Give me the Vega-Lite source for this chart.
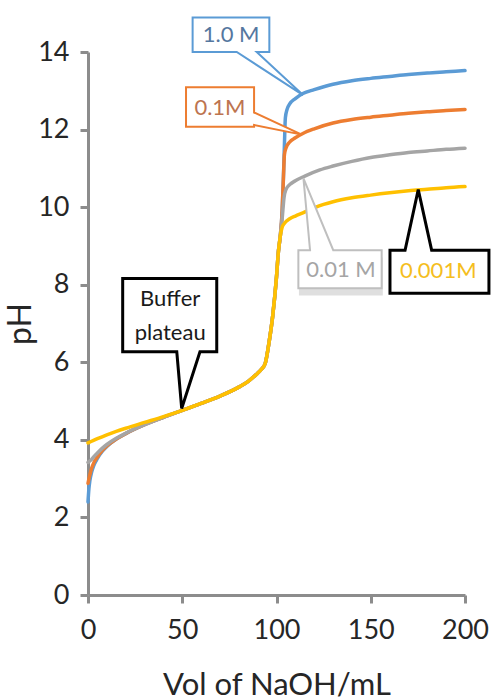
{
  "$schema": "https://vega.github.io/schema/vega-lite/v6.json",
  "width": 377,
  "height": 543,
  "autosize": {"type": "none"},
  "padding": {"left": 88, "top": 52, "right": 27, "bottom": 105},
  "background": "white",
  "config": {
    "view": {"stroke": null},
    "font": "Lato",
    "axis": {
      "domainColor": "#8c8c8c", "domainWidth": 3, "tickColor": "#8c8c8c", "tickWidth": 3, "tickSize": 8,
      "grid": false, "labelFont": "Lato", "labelFontSize": 27, "labelColor": "#262626",
      "titleFont": "Lato", "titleFontWeight": "normal", "titleColor": "#262626", "labelFlush": false, "labelOverlap": false
    }
  },
  "datasets": {
    "curves": [
      {"series": "1.0 M", "vol": 0, "pH": 2.4}, {"series": "1.0 M", "vol": 0.5, "pH": 2.75}, {"series": "1.0 M", "vol": 1, "pH": 2.95},
      {"series": "1.0 M", "vol": 2, "pH": 3.18}, {"series": "1.0 M", "vol": 3, "pH": 3.33}, {"series": "1.0 M", "vol": 5, "pH": 3.52},
      {"series": "1.0 M", "vol": 7.5, "pH": 3.7}, {"series": "1.0 M", "vol": 10, "pH": 3.83}, {"series": "1.0 M", "vol": 15, "pH": 4.02},
      {"series": "1.0 M", "vol": 20, "pH": 4.16}, {"series": "1.0 M", "vol": 30, "pH": 4.39}, {"series": "1.0 M", "vol": 40, "pH": 4.58},
      {"series": "1.0 M", "vol": 50, "pH": 4.76}, {"series": "1.0 M", "vol": 60, "pH": 4.94}, {"series": "1.0 M", "vol": 70, "pH": 5.13},
      {"series": "1.0 M", "vol": 80, "pH": 5.36}, {"series": "1.0 M", "vol": 85, "pH": 5.51}, {"series": "1.0 M", "vol": 90, "pH": 5.72},
      {"series": "1.0 M", "vol": 92, "pH": 5.82}, {"series": "1.0 M", "vol": 94, "pH": 5.97}, {"series": "1.0 M", "vol": 96, "pH": 6.5},
      {"series": "1.0 M", "vol": 98, "pH": 7.2}, {"series": "1.0 M", "vol": 100, "pH": 8.2}, {"series": "1.0 M", "vol": 101, "pH": 8.85},
      {"series": "1.0 M", "vol": 102, "pH": 9.25}, {"series": "1.0 M", "vol": 103, "pH": 9.9}, {"series": "1.0 M", "vol": 103.7, "pH": 10.8},
      {"series": "1.0 M", "vol": 104.2, "pH": 11.6}, {"series": "1.0 M", "vol": 104.7, "pH": 12.3}, {"series": "1.0 M", "vol": 105.6, "pH": 12.52},
      {"series": "1.0 M", "vol": 107, "pH": 12.66}, {"series": "1.0 M", "vol": 110, "pH": 12.8}, {"series": "1.0 M", "vol": 114, "pH": 12.93},
      {"series": "1.0 M", "vol": 120, "pH": 13.03}, {"series": "1.0 M", "vol": 130, "pH": 13.17}, {"series": "1.0 M", "vol": 140, "pH": 13.26},
      {"series": "1.0 M", "vol": 150, "pH": 13.32}, {"series": "1.0 M", "vol": 160, "pH": 13.37}, {"series": "1.0 M", "vol": 170, "pH": 13.42},
      {"series": "1.0 M", "vol": 180, "pH": 13.46}, {"series": "1.0 M", "vol": 190, "pH": 13.49}, {"series": "1.0 M", "vol": 200, "pH": 13.52},

      {"series": "0.1M", "vol": 0, "pH": 2.88}, {"series": "0.1M", "vol": 0.5, "pH": 3.0}, {"series": "0.1M", "vol": 1, "pH": 3.1},
      {"series": "0.1M", "vol": 2, "pH": 3.28}, {"series": "0.1M", "vol": 3, "pH": 3.4}, {"series": "0.1M", "vol": 5, "pH": 3.56},
      {"series": "0.1M", "vol": 7.5, "pH": 3.72}, {"series": "0.1M", "vol": 10, "pH": 3.84}, {"series": "0.1M", "vol": 15, "pH": 4.02},
      {"series": "0.1M", "vol": 20, "pH": 4.16}, {"series": "0.1M", "vol": 30, "pH": 4.39}, {"series": "0.1M", "vol": 40, "pH": 4.58},
      {"series": "0.1M", "vol": 50, "pH": 4.76}, {"series": "0.1M", "vol": 60, "pH": 4.94}, {"series": "0.1M", "vol": 70, "pH": 5.13},
      {"series": "0.1M", "vol": 80, "pH": 5.36}, {"series": "0.1M", "vol": 85, "pH": 5.51}, {"series": "0.1M", "vol": 90, "pH": 5.72},
      {"series": "0.1M", "vol": 92, "pH": 5.82}, {"series": "0.1M", "vol": 94, "pH": 5.97}, {"series": "0.1M", "vol": 96, "pH": 6.5},
      {"series": "0.1M", "vol": 98, "pH": 7.2}, {"series": "0.1M", "vol": 100, "pH": 8.2}, {"series": "0.1M", "vol": 101, "pH": 8.85},
      {"series": "0.1M", "vol": 102, "pH": 9.25}, {"series": "0.1M", "vol": 103, "pH": 9.9}, {"series": "0.1M", "vol": 103.7, "pH": 10.8},
      {"series": "0.1M", "vol": 104.2, "pH": 11.35}, {"series": "0.1M", "vol": 105, "pH": 11.52}, {"series": "0.1M", "vol": 107, "pH": 11.68},
      {"series": "0.1M", "vol": 110, "pH": 11.79}, {"series": "0.1M", "vol": 114, "pH": 11.9}, {"series": "0.1M", "vol": 120, "pH": 12.02},
      {"series": "0.1M", "vol": 130, "pH": 12.17}, {"series": "0.1M", "vol": 140, "pH": 12.26}, {"series": "0.1M", "vol": 150, "pH": 12.32},
      {"series": "0.1M", "vol": 160, "pH": 12.37}, {"series": "0.1M", "vol": 170, "pH": 12.42}, {"series": "0.1M", "vol": 180, "pH": 12.46},
      {"series": "0.1M", "vol": 190, "pH": 12.49}, {"series": "0.1M", "vol": 200, "pH": 12.52},

      {"series": "0.01 M", "vol": 0, "pH": 3.42}, {"series": "0.01 M", "vol": 1, "pH": 3.46}, {"series": "0.01 M", "vol": 2, "pH": 3.5},
      {"series": "0.01 M", "vol": 3, "pH": 3.56}, {"series": "0.01 M", "vol": 5, "pH": 3.66}, {"series": "0.01 M", "vol": 7.5, "pH": 3.78},
      {"series": "0.01 M", "vol": 10, "pH": 3.88}, {"series": "0.01 M", "vol": 15, "pH": 4.04}, {"series": "0.01 M", "vol": 20, "pH": 4.17},
      {"series": "0.01 M", "vol": 30, "pH": 4.39}, {"series": "0.01 M", "vol": 40, "pH": 4.58}, {"series": "0.01 M", "vol": 50, "pH": 4.76},
      {"series": "0.01 M", "vol": 60, "pH": 4.94}, {"series": "0.01 M", "vol": 70, "pH": 5.13}, {"series": "0.01 M", "vol": 80, "pH": 5.36},
      {"series": "0.01 M", "vol": 85, "pH": 5.51}, {"series": "0.01 M", "vol": 90, "pH": 5.72}, {"series": "0.01 M", "vol": 92, "pH": 5.82},
      {"series": "0.01 M", "vol": 94, "pH": 5.97}, {"series": "0.01 M", "vol": 96, "pH": 6.5}, {"series": "0.01 M", "vol": 98, "pH": 7.2},
      {"series": "0.01 M", "vol": 100, "pH": 8.2}, {"series": "0.01 M", "vol": 101, "pH": 8.85}, {"series": "0.01 M", "vol": 102, "pH": 9.25},
      {"series": "0.01 M", "vol": 103, "pH": 9.7}, {"series": "0.01 M", "vol": 104, "pH": 10.25}, {"series": "0.01 M", "vol": 105, "pH": 10.45},
      {"series": "0.01 M", "vol": 107, "pH": 10.58}, {"series": "0.01 M", "vol": 110, "pH": 10.68}, {"series": "0.01 M", "vol": 115, "pH": 10.8},
      {"series": "0.01 M", "vol": 123, "pH": 10.96}, {"series": "0.01 M", "vol": 130, "pH": 11.06}, {"series": "0.01 M", "vol": 140, "pH": 11.18},
      {"series": "0.01 M", "vol": 150, "pH": 11.28}, {"series": "0.01 M", "vol": 160, "pH": 11.35}, {"series": "0.01 M", "vol": 170, "pH": 11.41},
      {"series": "0.01 M", "vol": 180, "pH": 11.45}, {"series": "0.01 M", "vol": 190, "pH": 11.49}, {"series": "0.01 M", "vol": 200, "pH": 11.52},

      {"series": "0.001M", "vol": 0, "pH": 3.92}, {"series": "0.001M", "vol": 5, "pH": 4.03}, {"series": "0.001M", "vol": 10, "pH": 4.13},
      {"series": "0.001M", "vol": 15, "pH": 4.22}, {"series": "0.001M", "vol": 20, "pH": 4.3}, {"series": "0.001M", "vol": 30, "pH": 4.45},
      {"series": "0.001M", "vol": 40, "pH": 4.6}, {"series": "0.001M", "vol": 50, "pH": 4.76}, {"series": "0.001M", "vol": 60, "pH": 4.94},
      {"series": "0.001M", "vol": 70, "pH": 5.13}, {"series": "0.001M", "vol": 80, "pH": 5.36}, {"series": "0.001M", "vol": 85, "pH": 5.51},
      {"series": "0.001M", "vol": 90, "pH": 5.72}, {"series": "0.001M", "vol": 92, "pH": 5.82}, {"series": "0.001M", "vol": 94, "pH": 5.97},
      {"series": "0.001M", "vol": 96, "pH": 6.5}, {"series": "0.001M", "vol": 98, "pH": 7.2}, {"series": "0.001M", "vol": 100, "pH": 8.2},
      {"series": "0.001M", "vol": 101, "pH": 8.85}, {"series": "0.001M", "vol": 102, "pH": 9.25}, {"series": "0.001M", "vol": 103, "pH": 9.48},
      {"series": "0.001M", "vol": 104, "pH": 9.57}, {"series": "0.001M", "vol": 107, "pH": 9.7}, {"series": "0.001M", "vol": 110, "pH": 9.77},
      {"series": "0.001M", "vol": 114, "pH": 9.85}, {"series": "0.001M", "vol": 120, "pH": 9.98}, {"series": "0.001M", "vol": 125, "pH": 10.07},
      {"series": "0.001M", "vol": 130, "pH": 10.14}, {"series": "0.001M", "vol": 140, "pH": 10.24}, {"series": "0.001M", "vol": 150, "pH": 10.31},
      {"series": "0.001M", "vol": 160, "pH": 10.37}, {"series": "0.001M", "vol": 170, "pH": 10.42}, {"series": "0.001M", "vol": 180, "pH": 10.46},
      {"series": "0.001M", "vol": 190, "pH": 10.5}, {"series": "0.001M", "vol": 200, "pH": 10.53}
    ],
    "callouts": [
      {"id": "1.0 M", "k": 1, "vol": 55.5, "pH": 14.89}, {"id": "1.0 M", "k": 2, "vol": 96.2, "pH": 14.89},
      {"id": "1.0 M", "k": 3, "vol": 96.2, "pH": 14.0}, {"id": "1.0 M", "k": 4, "vol": 89.5, "pH": 14.0},
      {"id": "1.0 M", "k": 5, "vol": 114.1, "pH": 12.89}, {"id": "1.0 M", "k": 6, "vol": 78.9, "pH": 14.0},
      {"id": "1.0 M", "k": 7, "vol": 55.5, "pH": 14.0},

      {"id": "0.1M", "k": 1, "vol": 52, "pH": 13.09}, {"id": "0.1M", "k": 2, "vol": 88.1, "pH": 13.09},
      {"id": "0.1M", "k": 3, "vol": 88.1, "pH": 12.44}, {"id": "0.1M", "k": 4, "vol": 113.4, "pH": 11.87},
      {"id": "0.1M", "k": 5, "vol": 88.1, "pH": 12.12}, {"id": "0.1M", "k": 6, "vol": 88.1, "pH": 12.07},
      {"id": "0.1M", "k": 7, "vol": 52, "pH": 12.07},

      {"id": "0.01 M", "k": 1, "vol": 111.6, "pH": 8.89}, {"id": "0.01 M", "k": 2, "vol": 117.8, "pH": 8.89},
      {"id": "0.01 M", "k": 3, "vol": 114.3, "pH": 10.74}, {"id": "0.01 M", "k": 4, "vol": 130.1, "pH": 8.89},
      {"id": "0.01 M", "k": 5, "vol": 155.8, "pH": 8.89}, {"id": "0.01 M", "k": 6, "vol": 155.8, "pH": 7.91},
      {"id": "0.01 M", "k": 7, "vol": 111.6, "pH": 7.91},

      {"id": "0.001M", "k": 1, "vol": 160.2, "pH": 8.89}, {"id": "0.001M", "k": 2, "vol": 168.2, "pH": 8.89},
      {"id": "0.001M", "k": 3, "vol": 175.2, "pH": 10.45}, {"id": "0.001M", "k": 4, "vol": 182.3, "pH": 8.89},
      {"id": "0.001M", "k": 5, "vol": 212.7, "pH": 8.89}, {"id": "0.001M", "k": 6, "vol": 212.7, "pH": 7.78},
      {"id": "0.001M", "k": 7, "vol": 160.2, "pH": 7.78},

      {"id": "Buffer plateau", "k": 1, "vol": 18.4, "pH": 8.16}, {"id": "Buffer plateau", "k": 2, "vol": 68.3, "pH": 8.16},
      {"id": "Buffer plateau", "k": 3, "vol": 68.3, "pH": 6.27}, {"id": "Buffer plateau", "k": 4, "vol": 59.4, "pH": 6.27},
      {"id": "Buffer plateau", "k": 5, "vol": 49.7, "pH": 4.81}, {"id": "Buffer plateau", "k": 6, "vol": 47.1, "pH": 6.27},
      {"id": "Buffer plateau", "k": 7, "vol": 18.4, "pH": 6.27}
    ],
    "shadow": [{"v1": 111.9, "v2": 156.4, "p1": 7.72, "p2": 8.7}],
    "labels": [
      {"text": "1.0 M", "vol": 75.9, "pH": 14.44},
      {"text": "0.1M", "vol": 70.0, "pH": 12.56},
      {"text": "0.01 M", "vol": 134.2, "pH": 8.38},
      {"text": "0.001M", "vol": 185.8, "pH": 8.35},
      {"text": "Buffer", "vol": 43.6, "pH": 7.64},
      {"text": "plateau", "vol": 43.6, "pH": 6.76}
    ]
  },
  "layer": [
    {
      "data": {"name": "curves"},
      "mark": {"type": "line", "interpolate": "monotone", "strokeWidth": 3.5, "strokeCap": "round"},
      "encoding": {
        "x": {
          "field": "vol", "type": "quantitative",
          "scale": {"domain": [0, 200], "nice": false},
          "axis": {"values": [0, 50, 100, 150, 200], "labelPadding": 14, "title": "Vol of NaOH/mL", "titleFontSize": 31, "titlePadding": 27}
        },
        "y": {
          "field": "pH", "type": "quantitative",
          "scale": {"domain": [0, 14], "nice": false},
          "axis": {"values": [0, 2, 4, 6, 8, 10, 12, 14], "labelPadding": 11, "title": "pH", "titleFontSize": 32, "titlePadding": 0}
        },
        "color": {
          "field": "series", "type": "nominal",
          "scale": {"domain": ["1.0 M", "0.1M", "0.01 M", "0.001M"], "range": ["#5B9BD5", "#ED7D31", "#A5A5A5", "#FFC000"]},
          "legend": null
        }
      }
    },
    {
      "data": {"name": "shadow"},
      "mark": {"type": "rect", "fill": "#c4c4c4", "opacity": 0.55},
      "encoding": {
        "x": {"field": "v1", "type": "quantitative"},
        "x2": {"field": "v2"},
        "y": {"field": "p1", "type": "quantitative"},
        "y2": {"field": "p2"}
      }
    },
    {
      "data": {"name": "callouts"},
      "transform": [{"filter": "datum.id == '1.0 M' || datum.id == '0.1M' || datum.id == '0.01 M'"}],
      "mark": {"type": "line", "interpolate": "linear-closed", "fill": "white", "strokeWidth": 2, "strokeJoin": "miter"},
      "encoding": {
        "x": {"field": "vol", "type": "quantitative"},
        "y": {"field": "pH", "type": "quantitative"},
        "order": {"field": "k", "type": "quantitative"},
        "detail": {"field": "id"},
        "stroke": {
          "field": "id", "type": "nominal",
          "scale": {"domain": ["1.0 M", "0.1M", "0.01 M"], "range": ["#5B9BD5", "#ED7D31", "#BFBFBF"]},
          "legend": null
        }
      }
    },
    {
      "data": {"name": "callouts"},
      "transform": [{"filter": "datum.id == '0.001M' || datum.id == 'Buffer plateau'"}],
      "mark": {"type": "line", "interpolate": "linear-closed", "fill": "white", "stroke": "black", "strokeWidth": 3, "strokeJoin": "miter"},
      "encoding": {
        "x": {"field": "vol", "type": "quantitative"},
        "y": {"field": "pH", "type": "quantitative"},
        "order": {"field": "k", "type": "quantitative"},
        "detail": {"field": "id"}
      }
    },
    {
      "data": {"name": "labels"},
      "mark": {"type": "text", "font": "Lato", "fontSize": 22, "align": "center", "baseline": "middle"},
      "encoding": {
        "x": {"field": "vol", "type": "quantitative"},
        "y": {"field": "pH", "type": "quantitative"},
        "text": {"field": "text"},
        "fill": {
          "field": "text", "type": "nominal",
          "scale": {"domain": ["1.0 M", "0.1M", "0.01 M", "0.001M", "Buffer", "plateau"], "range": ["#55779F", "#BD7450", "#A5A5A5", "#F5BE1E", "#1a1a1a", "#1a1a1a"]},
          "legend": null
        }
      }
    }
  ]
}
